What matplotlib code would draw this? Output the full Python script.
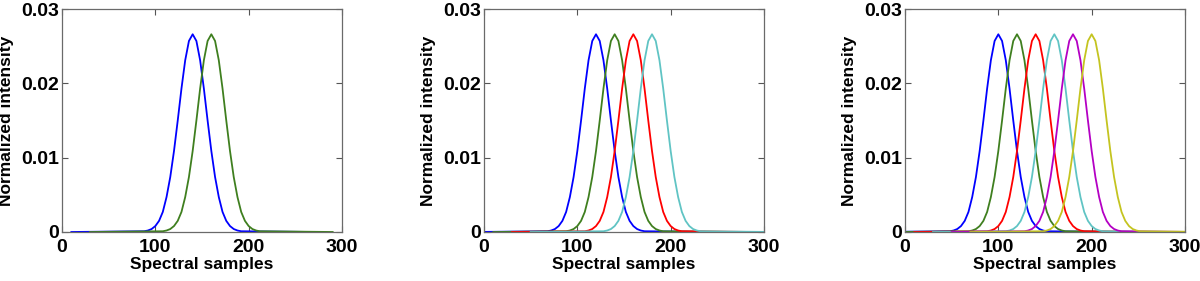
import matplotlib.pyplot as plt
from matplotlib.ticker import FixedLocator

# ---- data ----
# one spectral band profile: intensity vs offset from band centre (samples)
offsets = [-130, -52, -48, -44, -40, -36, -32, -28, -24, -20, -16, -12, -8, -4, 0,
           4, 8, 12, 16, 20, 24, 28, 32, 36, 40, 44, 48, 52, 130]
profile = [0.0, 0.0001, 0.0002, 0.0004, 0.0008, 0.0015, 0.0027, 0.0047, 0.0074, 0.0109,
           0.0150, 0.0193, 0.0231, 0.0257, 0.0266,
           0.0257, 0.0231, 0.0193, 0.0150, 0.0109, 0.0074, 0.0047, 0.0027, 0.0015,
           0.0008, 0.0004, 0.0002, 0.0001, 0.0]

centres_2 = [140, 160]
centres_4 = [120, 140, 160, 180]
centres_6 = [100, 120, 140, 160, 180, 200]

colours = ['#0000ff', '#3f7f1f', '#ff0000', '#60c4c4', '#b400c4', '#c4c420']

x_ticks = [0, 100, 200, 300]
y_ticks = [0, 0.01, 0.02, 0.03]
y_tick_labels = ['0', '0.01', '0.02', '0.03']

plt.rcParams['font.family'] = ['Liberation Sans', 'DejaVu Sans']
plt.rcParams['font.weight'] = 'bold'

fig = plt.figure(figsize=(12, 2.81), dpi=100)
lefts = [62 / 1200, 484 / 1200, 905 / 1200]
bottom = 1 - 232 / 281
width = 280 / 1200
height = 223 / 281

for left, centres in zip(lefts, [centres_2, centres_4, centres_6]):
    ax = fig.add_axes([left, bottom, width, height])
    for i, c in enumerate(centres):
        xs = [c + o for o in offsets]
        ax.plot(xs, profile, color=colours[i], linewidth=1.3)
    ax.set_xlim(0, 300)
    ax.set_ylim(0, 0.03)
    ax.xaxis.set_major_locator(FixedLocator(x_ticks))
    ax.yaxis.set_major_locator(FixedLocator(y_ticks))
    ax.set_yticklabels(y_tick_labels)
    ax.tick_params(direction='in', top=True, right=True, length=4, width=0.8,
                   color='#555555', labelsize=14)
    ax.tick_params(axis='x', pad=5)
    ax.tick_params(axis='y', pad=2)
    for lab in ax.get_xticklabels() + ax.get_yticklabels():
        lab.set_fontweight('bold')
    for sp in ax.spines.values():
        sp.set_color('#6a6a6a')
        sp.set_linewidth(0.9)
    ax.set_xlabel('Spectral samples', fontsize=12.5, fontweight='bold', labelpad=1)
    ax.set_ylabel('Normalized intensity', fontsize=12.5, fontweight='bold', labelpad=5)

fig.savefig('out.png', dpi=100)
